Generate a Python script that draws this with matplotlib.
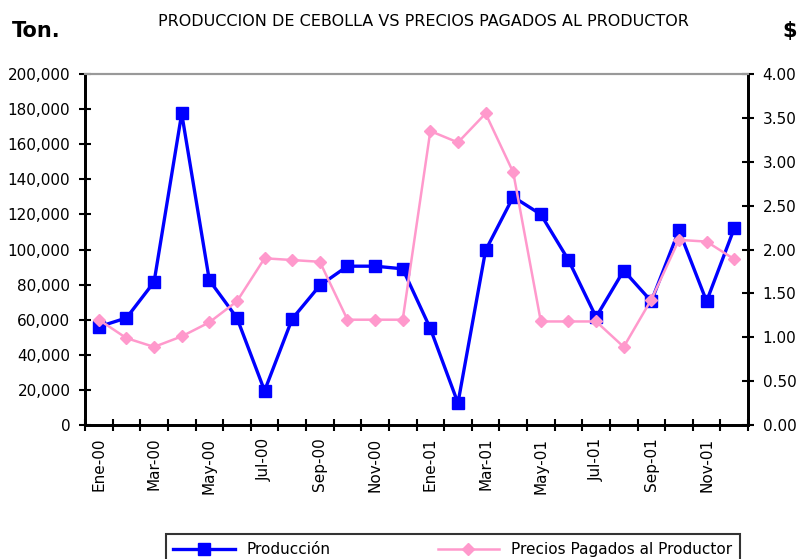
import matplotlib.pyplot as plt
import numpy as np

meses = ["Ene-00", "Feb-00", "Mar-00", "Abr-00", "May-00", "Jun-00", "Jul-00", "Ago-00",
         "Sep-00", "Oct-00", "Nov-00", "Dic-00", "Ene-01", "Feb-01", "Mar-01", "Abr-01",
         "May-01", "Jun-01", "Jul-01", "Ago-01", "Sep-01", "Oct-01", "Nov-01", "Dic-01"]
produccion = [56000, 61000, 81500, 177500, 82500, 61000, 19500, 60500, 79500, 90500, 90500, 89000,
              55000, 12500, 99500, 130000, 120000, 94000, 61500, 88000, 70500, 111000, 70500, 112000]
precios = [1.20, 0.99, 0.89, 1.01, 1.17, 1.41, 1.90, 1.88, 1.86, 1.20, 1.20, 1.20,
           3.35, 3.22, 3.55, 2.88, 1.18, 1.18, 1.18, 0.89, 1.43, 2.11, 2.09, 1.89]

plt.rcParams['font.family'] = ['DejaVu Sans']

x = np.arange(len(meses))

fig = plt.figure(figsize=(7.99, 5.59), dpi=100, facecolor="white")
ax = fig.add_axes([0.1064, 0.2397, 0.8298, 0.6279])
ax2 = ax.twinx()

l1, = ax.plot(x, produccion, color="#0000FF", lw=2.4, marker="s", ms=9, label="Producción", zorder=3)
l2, = ax2.plot(x, precios, color="#FF99CC", lw=1.8, marker="D", ms=6.5,
               label="Precios Pagados al Productor", zorder=2)

ax.set_xlim(-0.5, len(meses) - 0.5)
ax.set_ylim(0, 200000)
ax2.set_ylim(0, 4)
ax.set_yticks(np.arange(0, 200001, 20000))
ax.set_yticklabels([f"{v:,}" for v in range(0, 200001, 20000)])
ax2.set_yticks(np.arange(0, 4.01, 0.5))
ax2.set_yticklabels([f"{v:.2f}" for v in np.arange(0, 4.01, 0.5)])

# ticks entre categorias, etiquetas cada dos meses
ax.set_xticks(np.arange(-0.5, len(meses), 1))
ax.set_xticklabels([])
ax.set_xticks(x[::2], minor=True)
ax.set_xticklabels(meses[::2], minor=True, rotation=90)
ax.tick_params(axis="x", which="minor", length=0, pad=9, labelsize=11)
ax.tick_params(axis="x", which="major", direction="inout", length=9, width=1.5)
ax.tick_params(axis="y", direction="inout", length=9, width=1.5, labelsize=11, pad=6)
ax2.tick_params(axis="y", direction="inout", length=9, width=1.5, labelsize=11, pad=6)

for a in (ax, ax2):
    a.spines["left"].set_linewidth(2)
    a.spines["right"].set_linewidth(2)
    a.spines["bottom"].set_linewidth(2)
    a.spines["top"].set_color("#999999")
    a.spines["top"].set_linewidth(1.5)

fig.text(0.015, 0.945, "Ton.", fontsize=15, fontweight="bold", ha="left", va="center")
fig.text(0.53, 0.962, "PRODUCCION DE CEBOLLA VS PRECIOS PAGADOS AL PRODUCTOR", fontsize=11.5,
         ha="center", va="center")
fig.text(0.988, 0.945, "$", fontsize=15, fontweight="bold", ha="center", va="center")

leg = fig.legend(handles=[l1, l2], loc="upper left", bbox_to_anchor=(0.198, 0.058), ncol=2,
                 frameon=True, fancybox=False, edgecolor="black", fontsize=11, columnspacing=7,
                 handlelength=4, borderpad=0.5)
leg.get_frame().set_linewidth(1.5)

fig.savefig("out.png", dpi=100)
